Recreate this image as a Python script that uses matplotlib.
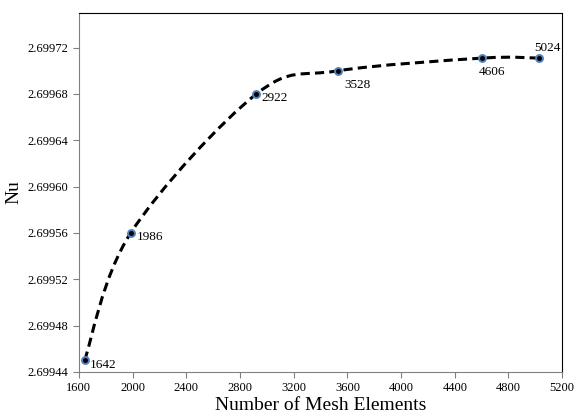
import matplotlib
matplotlib.use("Agg")
import matplotlib.pyplot as plt
from matplotlib.path import Path
from matplotlib.patches import PathPatch

elements = [1642, 1986, 2922, 3528, 4606, 5024]
nu = [2.69945, 2.69956, 2.69968, 2.69970, 2.699711, 2.699711]
labels = ["1642", "1986", "2922", "3528", "4606", "5024"]
label_offsets = [(4, -3), (4, -3), (4, -3), (5, -10), (-3, -10), (-3, 7)]

plt.rcParams["font.family"] = ["Liberation Serif", "DejaVu Serif"]

fig = plt.figure(figsize=(5.76, 4.17), dpi=100)
ax = fig.add_axes([0.137, 0.108, 0.839, 0.861])

# smooth line like excel: cubic bezier segments through the points
pts = list(zip(elements, nu))
ext = [pts[0]] + pts + [pts[-1]]
verts = [pts[0]]
codes = [Path.MOVETO]
for i in range(1, len(ext) - 2):
    p0, p1, p2, p3 = ext[i - 1], ext[i], ext[i + 1], ext[i + 2]
    c1 = (p1[0] + (p2[0] - p0[0]) / 6, p1[1] + (p2[1] - p0[1]) / 6)
    c2 = (p2[0] - (p3[0] - p1[0]) / 6, p2[1] - (p3[1] - p1[1]) / 6)
    verts += [c1, c2, p2]
    codes += [Path.CURVE4] * 3
ax.add_patch(PathPatch(Path(verts, codes), fill=False, lw=2.2,
                       ls=(0, (3, 1.7)), edgecolor="black"))

ax.plot(elements, nu, ls="none", marker="o", ms=5, mfc="black",
        mec="#4f81bd", mew=1.4)
for x, y, t, off in zip(elements, nu, labels, label_offsets):
    ax.annotate(t, (x, y), xytext=off, textcoords="offset points",
                fontsize=9.5, va="center")

ax.set_xlim(1600, 5200)
ax.set_ylim(2.69944, 2.699750)
ax.set_xticks(range(1600, 5201, 400))
yt = [2.69944 + 0.00004 * i for i in range(8)]
ax.set_yticks(yt)
ax.set_yticklabels(["%.5f" % v for v in yt])
ax.tick_params(labelsize=9, direction="out", length=4, color="#808080")
for s in ["left", "bottom"]:
    ax.spines[s].set_color("#808080")
ax.set_xlabel("Number of Mesh Elements", fontsize=14, labelpad=2)
ax.set_ylabel("Nu", fontsize=14, labelpad=4)

fig.savefig("out.png", dpi=100)
